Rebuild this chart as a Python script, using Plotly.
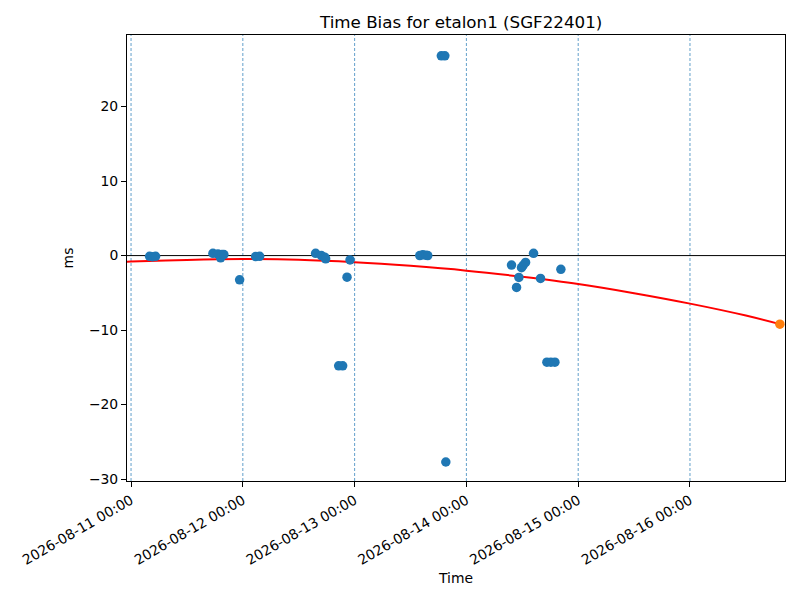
import plotly.graph_objects as go

# measured time bias samples (ms)
obs_times = [
    "2026-08-11 03:59", "2026-08-11 04:37", "2026-08-11 05:16",
    "2026-08-11 17:35", "2026-08-11 18:39", "2026-08-11 19:14", "2026-08-11 19:31", "2026-08-11 19:56",
    "2026-08-11 23:19",
    "2026-08-12 02:45", "2026-08-12 03:37",
    "2026-08-12 15:38", "2026-08-12 16:52", "2026-08-12 17:35", "2026-08-12 17:47",
    "2026-08-12 20:35", "2026-08-12 21:26",
    "2026-08-12 22:22", "2026-08-12 23:01",
    "2026-08-13 13:59", "2026-08-13 14:38", "2026-08-13 15:17", "2026-08-13 15:42",
    "2026-08-13 18:37", "2026-08-13 19:22", "2026-08-13 19:35",
    "2026-08-14 09:41", "2026-08-14 10:46", "2026-08-14 11:16", "2026-08-14 11:50",
    "2026-08-14 12:11", "2026-08-14 12:42", "2026-08-14 14:25", "2026-08-14 15:55",
    "2026-08-14 17:17", "2026-08-14 18:08", "2026-08-14 19:00",
    "2026-08-14 20:17",
]
obs_values = [
    -0.1, -0.15, -0.1,
    0.3, 0.22, -0.3, 0.13, 0.13,
    -3.26,
    -0.13, -0.1,
    0.3, 0.0, -0.22, -0.44,
    -14.8, -14.8,
    -2.9, -0.58,
    0.0, 0.1, 0.05, 0.0,
    26.8, 26.8, -27.7,
    -1.28, -4.27, -2.93, -1.63,
    -1.3, -0.92, 0.3, -3.06,
    -14.3, -14.3, -14.3,
    -1.85,
]

# fitted trend
fit_times = [
    "2026-08-10 23:08", "2026-08-11 00:00", "2026-08-11 12:00", "2026-08-12 00:00",
    "2026-08-12 12:00", "2026-08-13 00:00", "2026-08-13 12:00", "2026-08-14 00:00",
    "2026-08-14 12:00", "2026-08-15 00:00", "2026-08-15 12:00", "2026-08-16 00:00",
    "2026-08-16 12:00", "2026-08-16 19:18",
]
fit_values = [-0.82, -0.8, -0.58, -0.47, -0.55, -0.88, -1.38, -2.02,
              -2.85, -3.82, -5.05, -6.45, -8.05, -9.2]

pred_time = ["2026-08-16 19:18"]
pred_value = [-9.2]

day_lines = ["2026-08-11", "2026-08-12", "2026-08-13", "2026-08-14", "2026-08-15", "2026-08-16"]

fig = go.Figure()
fig.add_trace(go.Scatter(
    x=fit_times, y=fit_values, mode="lines", line_shape="spline",
    line=dict(color="red", width=2), showlegend=False,
))
fig.add_trace(go.Scatter(
    x=obs_times, y=obs_values, mode="markers",
    marker=dict(color="#1f77b4", size=9.5), showlegend=False,
))
fig.add_trace(go.Scatter(
    x=pred_time, y=pred_value, mode="markers",
    marker=dict(color="#ff7f0e", size=9.5), showlegend=False,
))

for d in day_lines:
    fig.add_shape(type="line", xref="x", yref="paper", x0=d, x1=d, y0=0, y1=1,
                  line=dict(color="#1f77b4", width=0.7, dash="3px,2px"), layer="below")
fig.add_shape(type="line", xref="paper", yref="y", x0=0, x1=1, y0=0, y1=0,
              line=dict(color="black", width=1), layer="below")

axis_style = dict(
    showline=True, linecolor="black", linewidth=1, mirror=True,
    ticks="outside", ticklen=5, tickcolor="black", showgrid=False, zeroline=False,
    tickfont=dict(family="DejaVu Sans", size=13.9, color="black"),
)

# page body has an 8px margin, so the figure is a bit smaller than the window
fig.update_layout(
    width=784, height=584,
    margin=dict(l=119, r=7, t=27, b=111),
    paper_bgcolor="white", plot_bgcolor="white",
    font=dict(family="DejaVu Sans", size=13.9, color="black"),
    title=dict(text="Time Bias for etalon1 (SGF22401)", x=0.578, xanchor="center",
               y=0.976, yanchor="middle", font=dict(size=16.7)),
    xaxis=dict(
        axis_style, range=["2026-08-10 23:08", "2026-08-16 20:24"],
        tick0="2026-08-11", dtick=86400000, tickformat="%Y-%m-%d %H:%M",
        tickangle=-30, title=dict(text="Time", font=dict(size=13.9), standoff=6),
    ),
    yaxis=dict(
        axis_style, range=[-30.25, 29.6], tickvals=[-30, -20, -10, 0, 10, 20],
        ticktext=["\u221230", "\u221220", "\u221210", "0", "10", "20"],
        title=dict(text="ms", font=dict(size=13.9), standoff=12),
    ),
)

fig.write_html("out.html")
